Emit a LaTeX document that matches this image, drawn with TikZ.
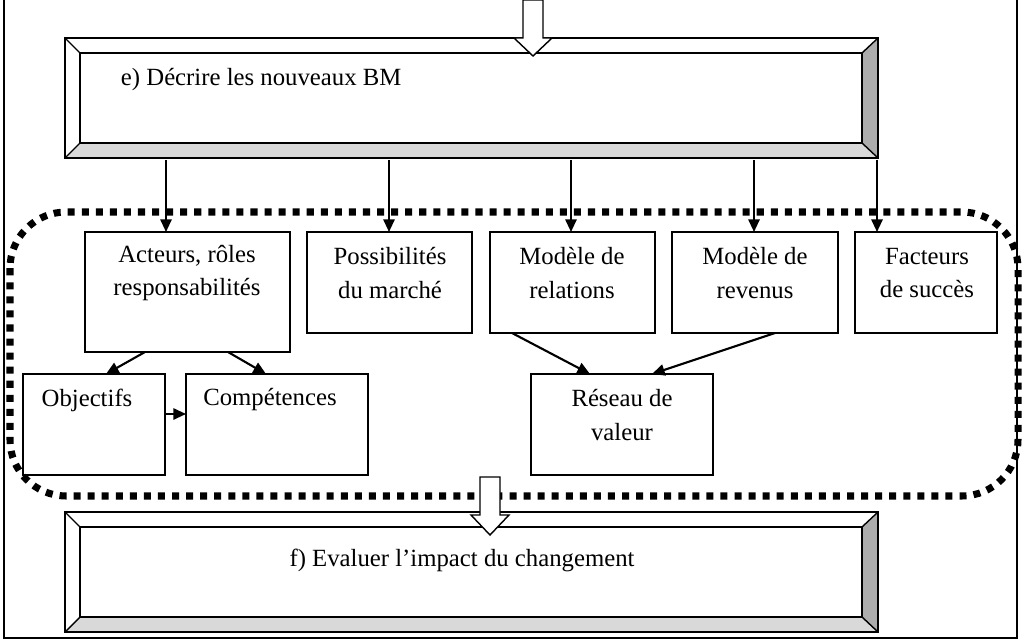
\documentclass[tikz,border=0pt]{standalone}
\usepackage{fontspec}
\setmainfont{Liberation Serif}
\usetikzlibrary{arrows.meta}

\tikzset{
  lbl/.style={align=center, font=\fontsize{17.6}{24}\selectfont},
  arr/.style={-{Triangle[length=9pt,width=8pt]}, line width=1.5pt},
  hollow/.style={draw, line width=1pt, fill=white}
}

\begin{document}
\begin{tikzpicture}[x=0.025cm, y=-0.025cm]
  \useasboundingbox (0,0) rectangle (1024,643);
  % outer frame
  \draw[line width=1pt] (4,0) -- (4,638) -- (1017,638) -- (1017,0);

  % top bevelled box
  \fill[gray!30] (65,158) -- (80,143) -- (862,143) -- (878,158) -- cycle;
  \fill[gray!65] (878,38) -- (862,53) -- (862,143) -- (878,158) -- cycle;
  \draw[line width=1.2pt] (65,38) rectangle (878,158);
  \draw[line width=1.2pt] (80,53) rectangle (862,143);
  \draw[line width=1pt] (65,38) -- (80,53) (878,38) -- (862,53) (65,158) -- (80,143) (878,158) -- (862,143);
  \node (decrire) [lbl, anchor=west] at (116,80) {e) Décrire les nouveaux BM};

  % bottom bevelled box
  \fill[gray!30] (65,632) -- (80,617) -- (862,617) -- (878,632) -- cycle;
  \fill[gray!65] (878,512) -- (862,527) -- (862,617) -- (878,632) -- cycle;
  \draw[line width=1.2pt] (65,512) rectangle (878,632);
  \draw[line width=1.2pt] (80,527) rectangle (862,617);
  \draw[line width=1pt] (65,512) -- (80,527) (878,512) -- (862,527) (65,632) -- (80,617) (878,632) -- (862,617);
  \node (evaluer) [lbl] at (462,560) {f) Evaluer l'impact du changement};

  % dotted group
  \draw[line width=5pt, dash pattern=on 5pt off 5pt, rounded corners=40] (10,212) rectangle (1018,496);

  % hollow arrows
  \draw[hollow] (523,0) -- (543,0) -- (543,38) -- (552,38) -- (533,56) -- (514,38) -- (523,38) -- cycle;
  \draw[hollow] (480,477) -- (500,477) -- (500,515) -- (509,515) -- (490,535) -- (471,515) -- (480,515) -- cycle;

  % boxes
  \draw[line width=1.2pt] (85,232) rectangle (290,352);
  \node (acteurs) [lbl] at (187,273) {Acteurs, rôles\\responsabilités};
  \draw[line width=1.2pt] (307,232) rectangle (472,333);
  \node (marche) [lbl] at (390,273) {Possibilités\\du marché};
  \draw[line width=1.2pt] (490,232) rectangle (655,333);
  \node (relations) [lbl] at (572,273) {Modèle de\\relations};
  \draw[line width=1.2pt] (672,232) rectangle (838,333);
  \node (revenus) [lbl] at (755,273) {Modèle de\\revenus};
  \draw[line width=1.2pt] (855,232) rectangle (997,333);
  \node (facteurs) [lbl] at (927,273) {Facteurs\\de succès};
  \draw[line width=1.2pt] (23,374) rectangle (165,475);
  \node (objectifs) [lbl] at (87,400) {Objectifs};
  \draw[line width=1.2pt] (186,374) rectangle (368,475);
  \node (competences) [lbl] at (270,400) {Compétences};
  \draw[line width=1.2pt] (531,374) rectangle (713,475);
  \node (reseau) [lbl] at (622,415) {Réseau de\\valeur};

  % connectors
  \foreach \x in {166, 389, 571, 754, 877}
    \draw[arr] (\x,160) -- (\x,232);
  \draw[arr] (145,352) -- (106,374);
  \draw[arr] (228,352) -- (266,374);
  \draw[arr] (165,414) -- (186,414);
  \draw[arr] (512,333) -- (590,374);
  \draw[arr] (775,333) -- (652,374);
\end{tikzpicture}
\end{document}
